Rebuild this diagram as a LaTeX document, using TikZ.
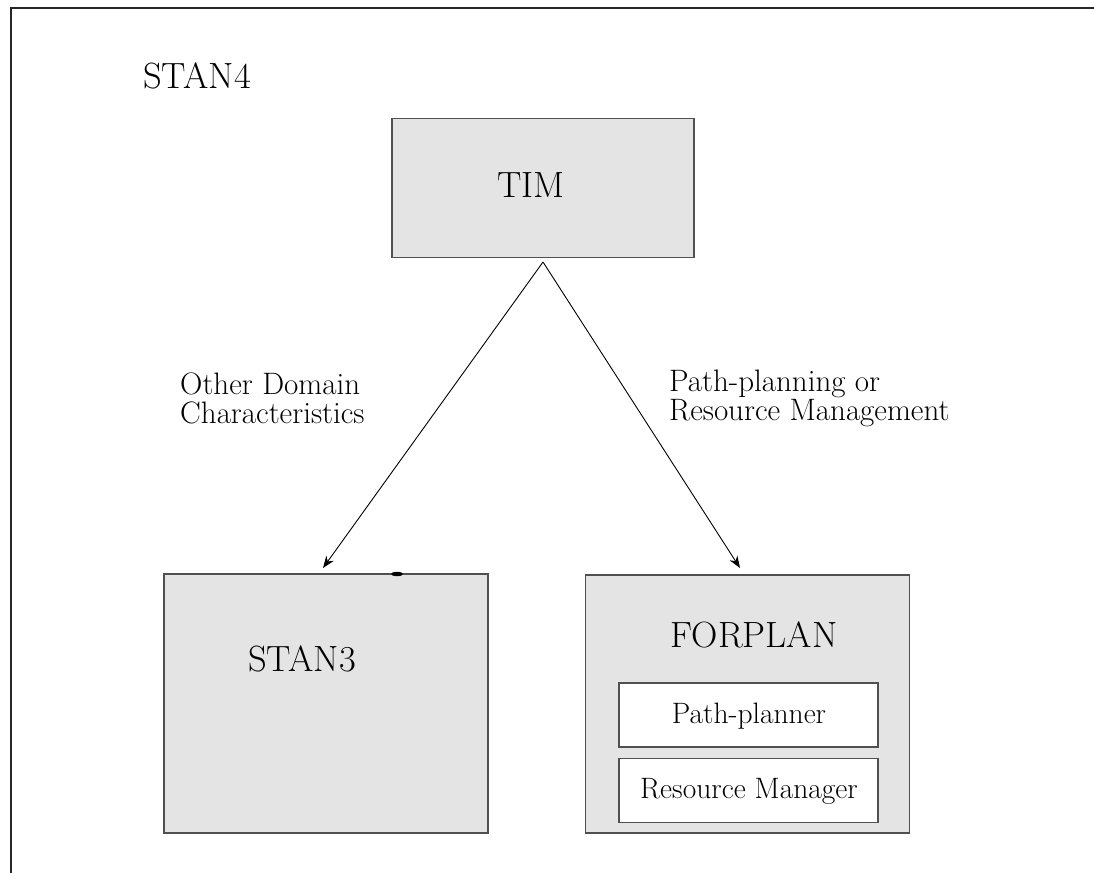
\documentclass[tikz,border=0pt]{standalone}
\usetikzlibrary{arrows.meta}
\definecolor{boxfill}{HTML}{E4E4E4}
\definecolor{boxline}{HTML}{505050}
\tikzset{
  box/.style={draw=boxline, fill=boxfill, line width=1.6pt, inner sep=0pt},
  innerbox/.style={draw=boxline, fill=white, line width=1.3pt, inner sep=0pt},
  big/.style={font=\fontsize{36.5}{42}\selectfont, inner sep=0pt},
  lab/.style={font=\fontsize{31}{29}\selectfont, align=left, inner sep=0pt, anchor=west},
  small/.style={font=\fontsize{29.5}{32}\selectfont, inner sep=0pt},
  arr/.style={line width=0.9pt, -{Stealth[length=12pt,width=9pt]}},
  frame/.style={line width=1.8pt, draw=black!85}
}
\begin{document}
\begin{tikzpicture}[x=1pt,y=-1pt]
\useasboundingbox (0,0) rectangle (1094,873);
% frame
\draw[frame] (1094,8) -- (11,8) -- (11,873);
\node[big, anchor=west] (stan4) at (143,76) {STAN4};
% TIM
\node[box, minimum width=302pt, minimum height=139pt] (tim) at (543,188) {};
\node[big] (timtext) at (531,185) {TIM};
% STAN3
\node[box, minimum width=324pt, minimum height=259pt] (stan3) at (326,703.5) {};
\node[big] (stan3text) at (302,659) {STAN3};
\fill[black] (397,574) ellipse (6pt and 2.2pt);
% FORPLAN
\node[box, minimum width=324pt, minimum height=258pt] (forplan) at (747.5,704) {};
\node[big] (forplantext) at (754,635) {FORPLAN};
\node[innerbox, minimum width=259pt, minimum height=64pt] (pp) at (748.5,715) {};
\node[small] (pptext) at (749,716) {Path-planner};
\node[innerbox, minimum width=259pt, minimum height=64pt] (rm) at (748.5,790.5) {};
\node[small] (rmtext) at (749,791) {Resource Manager};
% arrows
\coordinate (apex) at (543,262);
\coordinate (endL) at (323,568);
\coordinate (endR) at (740,568);
\draw[arr] (apex) -- (endL);
\draw[arr] (apex) -- (endR);
% labels
\node[lab] (labL) at (180,398) {Other Domain\\Characteristics};
\node[lab] (labR) at (669,398) {Path-planning or\\Resource Management};
\end{tikzpicture}
\end{document}
